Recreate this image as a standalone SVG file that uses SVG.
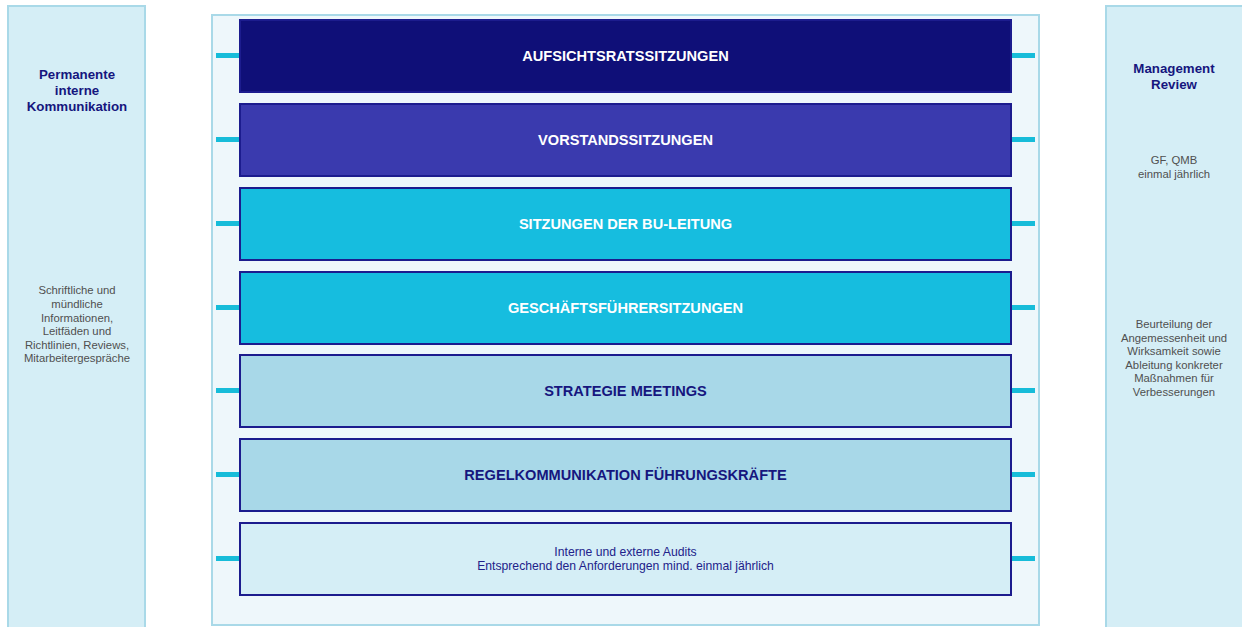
<svg xmlns="http://www.w3.org/2000/svg" width="1242" height="627" viewBox="0 0 1242 627">
<style>
.side{fill:#d5eef6;stroke:#a9d9e8;stroke-width:2}
.cont{fill:#eef7fb;stroke:#a9d9e8;stroke-width:2}
.row{stroke:#1c1c8e;stroke-width:2}
.stub{stroke:#17bcd9;stroke-width:5}
.t{font-family:"Liberation Sans",Arial,sans-serif;text-anchor:middle}
.hw{font-size:14.6px;font-weight:bold;fill:#ffffff}
.hn{font-size:14.6px;font-weight:bold;fill:#16167e}
.st{font-size:13.3px;font-weight:bold;fill:#16167e}
.body{font-size:11.3px;fill:#505050}
.audit{font-size:12.2px;fill:#22228a}
</style>
<g id="left-panel">
<rect class="side" x="8" y="6" width="137" height="630"/>
<text class="t st" x="77" y="79">Permanente</text>
<text class="t st" x="77" y="95">interne</text>
<text class="t st" x="77" y="111">Kommunikation</text>
<text class="t body" x="77" y="294">Schriftliche und</text>
<text class="t body" x="77" y="308">mündliche</text>
<text class="t body" x="77" y="322">Informationen,</text>
<text class="t body" x="77" y="335">Leitfäden und</text>
<text class="t body" x="77" y="349">Richtlinien, Reviews,</text>
<text class="t body" x="77" y="362">Mitarbeitergespräche</text>
</g>
<g id="right-panel">
<rect class="side" x="1106" y="6" width="140" height="630"/>
<text class="t st" x="1174" y="73">Management</text>
<text class="t st" x="1174" y="89">Review</text>
<text class="t body" x="1174" y="164">GF, QMB</text>
<text class="t body" x="1174" y="178">einmal jährlich</text>
<text class="t body" x="1174" y="328">Beurteilung der</text>
<text class="t body" x="1174" y="342">Angemessenheit und</text>
<text class="t body" x="1174" y="355">Wirksamkeit sowie</text>
<text class="t body" x="1174" y="369">Ableitung konkreter</text>
<text class="t body" x="1174" y="382">Maßnahmen für</text>
<text class="t body" x="1174" y="396">Verbesserungen</text>
</g>
<g id="container">
<rect class="cont" x="212" y="15" width="827" height="610"/>
</g>
<g id="connectors">
<line class="stub" x1="216" y1="55.5" x2="240" y2="55.5"/>
<line class="stub" x1="1011" y1="55.5" x2="1035" y2="55.5"/>
<line class="stub" x1="216" y1="139.5" x2="240" y2="139.5"/>
<line class="stub" x1="1011" y1="139.5" x2="1035" y2="139.5"/>
<line class="stub" x1="216" y1="223.5" x2="240" y2="223.5"/>
<line class="stub" x1="1011" y1="223.5" x2="1035" y2="223.5"/>
<line class="stub" x1="216" y1="307.5" x2="240" y2="307.5"/>
<line class="stub" x1="1011" y1="307.5" x2="1035" y2="307.5"/>
<line class="stub" x1="216" y1="390.5" x2="240" y2="390.5"/>
<line class="stub" x1="1011" y1="390.5" x2="1035" y2="390.5"/>
<line class="stub" x1="216" y1="474.5" x2="240" y2="474.5"/>
<line class="stub" x1="1011" y1="474.5" x2="1035" y2="474.5"/>
<line class="stub" x1="216" y1="558.5" x2="240" y2="558.5"/>
<line class="stub" x1="1011" y1="558.5" x2="1035" y2="558.5"/>
</g>
<g id="row1">
<rect class="row" x="240" y="20" width="771" height="72" fill="#0f0f78"/>
<text class="t hw" x="625.5" y="61">AUFSICHTSRATSSITZUNGEN</text>
</g>
<g id="row2">
<rect class="row" x="240" y="104" width="771" height="72" fill="#3a3aae"/>
<text class="t hw" x="625.5" y="145">VORSTANDSSITZUNGEN</text>
</g>
<g id="row3">
<rect class="row" x="240" y="188" width="771" height="72" fill="#16bddf"/>
<text class="t hw" x="625.5" y="229">SITZUNGEN DER BU-LEITUNG</text>
</g>
<g id="row4">
<rect class="row" x="240" y="272" width="771" height="72" fill="#16bddf"/>
<text class="t hw" x="625.5" y="313">GESCHÄFTSFÜHRERSITZUNGEN</text>
</g>
<g id="row5">
<rect class="row" x="240" y="355" width="771" height="72" fill="#a8d8e8"/>
<text class="t hn" x="625.5" y="396">STRATEGIE MEETINGS</text>
</g>
<g id="row6">
<rect class="row" x="240" y="439" width="771" height="72" fill="#a8d8e8"/>
<text class="t hn" x="625.5" y="480">REGELKOMMUNIKATION FÜHRUNGSKRÄFTE</text>
</g>
<g id="row7">
<rect class="row" x="240" y="523" width="771" height="72" fill="#d5eef6"/>
<text class="t audit" x="625.5" y="556">Interne und externe Audits</text>
<text class="t audit" x="625.5" y="570">Entsprechend den Anforderungen mind. einmal jährlich</text>
</g>
</svg>
